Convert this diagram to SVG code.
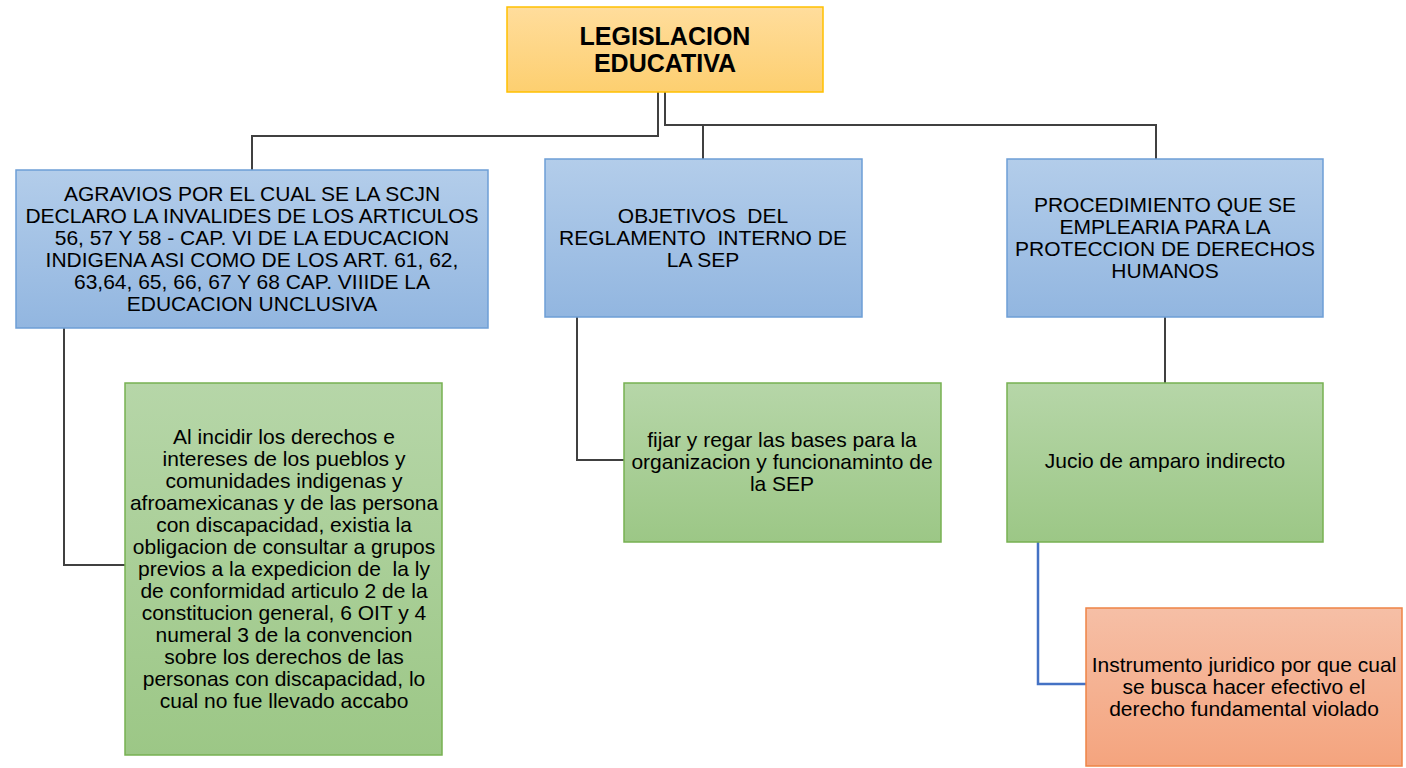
<svg xmlns="http://www.w3.org/2000/svg" width="1406" height="768" viewBox="0 0 1406 768">
<defs>
<linearGradient id="gy" x1="0" y1="0" x2="0" y2="1"><stop offset="0" stop-color="#FFDD9C"/><stop offset="1" stop-color="#FDCF70"/></linearGradient>
<linearGradient id="gb" x1="0" y1="0" x2="0" y2="1"><stop offset="0" stop-color="#B3CDEA"/><stop offset="1" stop-color="#92B6E0"/></linearGradient>
<linearGradient id="gg" x1="0" y1="0" x2="0" y2="1"><stop offset="0" stop-color="#B6D6A8"/><stop offset="1" stop-color="#9CC786"/></linearGradient>
<linearGradient id="go" x1="0" y1="0" x2="0" y2="1"><stop offset="0" stop-color="#F6BFA6"/><stop offset="1" stop-color="#F4A47E"/></linearGradient>
</defs>
<style>
.t{font-family:"Liberation Sans",Arial,sans-serif;font-size:21px;fill:#000;text-anchor:middle}
.h{font-family:"Liberation Sans",Arial,sans-serif;font-size:25px;font-weight:bold;fill:#000;text-anchor:middle}
.c{fill:none;stroke:#404040;stroke-width:2}
.cb{fill:none;stroke:#4472C4;stroke-width:2.5}
.y{fill:url(#gy);stroke:#FFC000;stroke-width:1.5}
.b{fill:url(#gb);stroke:#6D9ED6;stroke-width:1.5}
.g{fill:url(#gg);stroke:#77B151;stroke-width:1.5}
.o{fill:url(#go);stroke:#EE8446;stroke-width:1.5}
</style>
<rect width="1406" height="768" fill="#fff"/>
<g id="connectors">
<polyline class="c" points="658,92 658,136 252,136 252,170"/>
<polyline class="c" points="665,92 665,125 1156,125 1156,159"/>
<line class="c" x1="703" y1="125" x2="703" y2="159"/>
<polyline class="c" points="64,328 64,565 125,565"/>
<polyline class="c" points="577,317 577,460 624,460"/>
<line class="c" x1="1165" y1="317" x2="1165" y2="383"/>
<polyline class="cb" points="1038,542 1038,684 1086,684"/>
</g>
<g id="root">
<rect class="y" x="507" y="7" width="316" height="85"/>
<text class="h"><tspan x="665" y="45">LEGISLACION</tspan><tspan x="665" y="72">EDUCATIVA</tspan></text>
</g>
<g id="agravios">
<rect class="b" x="16" y="170" width="472" height="158"/>
<text class="t"><tspan x="252" y="201">AGRAVIOS POR EL CUAL SE LA SCJN</tspan><tspan x="252" y="223">DECLARO LA INVALIDES DE LOS ARTICULOS</tspan><tspan x="252" y="245">56, 57 Y 58 - CAP. VI DE LA EDUCACION</tspan><tspan x="252" y="267">INDIGENA ASI COMO DE LOS ART. 61, 62,</tspan><tspan x="252" y="289">63,64, 65, 66, 67 Y 68 CAP. VIIIDE LA</tspan><tspan x="252" y="311">EDUCACION UNCLUSIVA</tspan></text>
</g>
<g id="objetivos">
<rect class="b" x="545" y="159" width="317" height="158"/>
<text class="t" xml:space="preserve"><tspan x="703" y="223">OBJETIVOS  DEL</tspan><tspan x="703" y="245">REGLAMENTO  INTERNO DE</tspan><tspan x="703" y="267">LA SEP</tspan></text>
</g>
<g id="procedimiento">
<rect class="b" x="1007" y="159" width="316" height="158"/>
<text class="t"><tspan x="1165" y="212">PROCEDIMIENTO QUE SE</tspan><tspan x="1165" y="234">EMPLEARIA PARA LA</tspan><tspan x="1165" y="256">PROTECCION DE DERECHOS</tspan><tspan x="1165" y="278">HUMANOS</tspan></text>
</g>
<g id="incidir">
<rect class="g" x="125" y="383" width="317" height="372"/>
<text class="t" xml:space="preserve"><tspan x="284" y="444">Al incidir los derechos e</tspan><tspan x="284" y="466">intereses de los pueblos y</tspan><tspan x="284" y="488">comunidades indigenas y</tspan><tspan x="284" y="510">afroamexicanas y de las persona</tspan><tspan x="284" y="532">con discapacidad, existia la</tspan><tspan x="284" y="554">obligacion de consultar a grupos</tspan><tspan x="284" y="576">previos a la expedicion de  la ly</tspan><tspan x="284" y="598">de conformidad articulo 2 de la</tspan><tspan x="284" y="620">constitucion general, 6 OIT y 4</tspan><tspan x="284" y="642">numeral 3 de la convencion</tspan><tspan x="284" y="664">sobre los derechos de las</tspan><tspan x="284" y="686">personas con discapacidad, lo</tspan><tspan x="284" y="708">cual no fue llevado accabo</tspan></text>
</g>
<g id="fijar">
<rect class="g" x="624" y="383" width="317" height="159"/>
<text class="t"><tspan x="782" y="447">fijar y regar las bases para la</tspan><tspan x="782" y="469">organizacion y funcionaminto de</tspan><tspan x="782" y="491">la SEP</tspan></text>
</g>
<g id="jucio">
<rect class="g" x="1007" y="383" width="316" height="159"/>
<text class="t" x="1165" y="468">Jucio de amparo indirecto</text>
</g>
<g id="instrumento">
<rect class="o" x="1086" y="608" width="316" height="158"/>
<text class="t"><tspan x="1244" y="672">Instrumento juridico por que cual</tspan><tspan x="1244" y="694">se busca hacer efectivo el</tspan><tspan x="1244" y="716">derecho fundamental violado</tspan></text>
</g>
</svg>
